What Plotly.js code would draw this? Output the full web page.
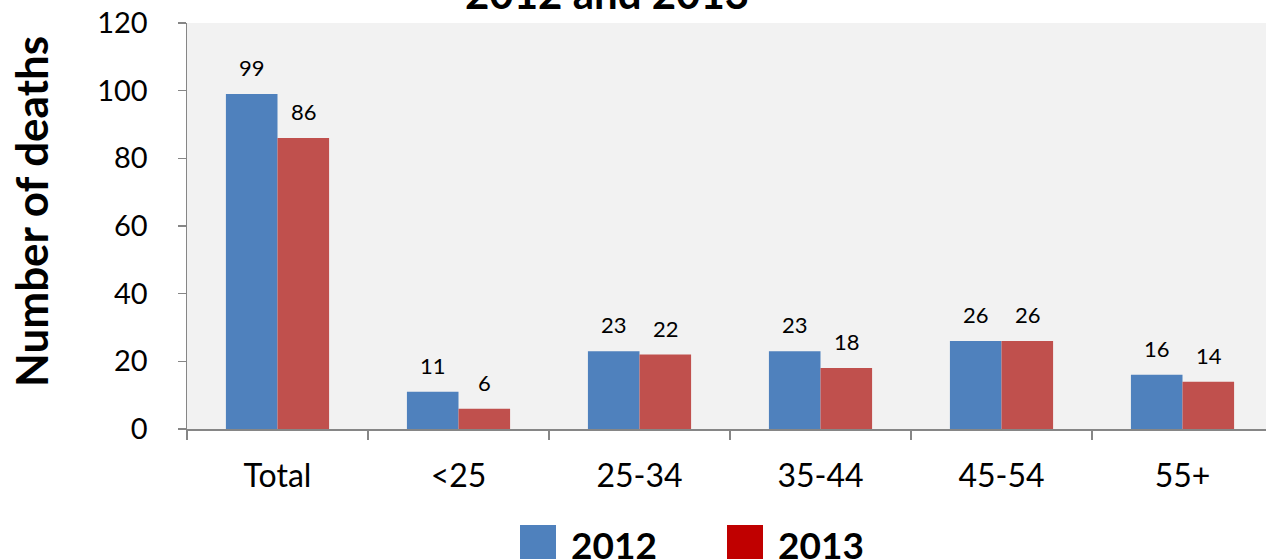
<!DOCTYPE html>
<html><head><meta charset="utf-8">
<script src="https://cdn.plot.ly/plotly-3.0.1.min.js"></script>
<style>html,body{margin:0;padding:0;overflow:hidden;background:#fff;width:1266px;height:559px}</style>
</head><body><div id="chart"></div>
<script>
const categories = ["Total", "<25", "25-34", "35-44", "45-54", "55+"];
const deaths2012 = [99, 11, 23, 23, 26, 16];
const deaths2013 = [86, 6, 22, 18, 26, 14];
const seriesNames = ["2012", "2013"];
const barColors = ["#4F81BD", "#C0504D"];
const legendColors = ["#4F81BD", "#C00000"];
const titleText = "2012 and 2013";
const yTitle = "Number of deaths";
const yTicks = [0, 20, 40, 60, 80, 100, 120];

const FONT = "Lato, 'Open Sans', sans-serif";
const series = [deaths2012, deaths2013];

const traces = series.map((vals, i) => ({
  type: "bar", x: categories, y: vals, name: seriesNames[i],
  marker: {color: barColors[i], line: {width: 0}},
  showlegend: false, hoverinfo: "skip"
}));

const annotations = [];
series.forEach((vals, i) => {
  vals.forEach((v, j) => {
    annotations.push({
      x: categories[j], y: v, xref: "x", yref: "y",
      xshift: (i === 0 ? -26 : 26), yshift: 11,
      yanchor: "bottom", showarrow: false, text: String(v),
      font: {family: FONT, size: 22, color: "#000"}
    });
  });
});
annotations.push({
  xref: "paper", yref: "paper", x: (607 - 187) / 1086, y: 1 + 3 / 406,
  xanchor: "center", yanchor: "bottom", showarrow: false,
  text: "<b>" + titleText + "</b>",
  font: {family: FONT, size: 42, color: "#000"}
});
annotations.push({
  xref: "paper", yref: "paper", x: -(187 - 31) / 1086, y: 0.5 + (226 - 212) / 406,
  xanchor: "center", yanchor: "middle", showarrow: false, textangle: -90,
  text: "<b>" + yTitle + "</b>",
  font: {family: FONT, size: 44, color: "#000"}
});
const shapes = [];
const legX = [520, 727];
seriesNames.forEach((n, i) => {
  shapes.push({type: "rect", xref: "paper", yref: "paper",
    x0: (legX[i] - 187) / 1086, x1: (legX[i] + 36 - 187) / 1086,
    y0: -(525 - 429) / 406, y1: -(562 - 429) / 406,
    fillcolor: legendColors[i], line: {width: 0}});
  annotations.push({xref: "paper", yref: "paper",
    x: (legX[i] + 49 - 187) / 1086, y: -(544 - 429) / 406,
    xanchor: "left", yanchor: "middle", showarrow: false,
    text: "<b>" + n + "</b>", font: {family: FONT, size: 37, color: "#000"}});
});

const layout = {
  width: 1280, height: 559,
  margin: {l: 187, r: 7, t: 23, b: 130, pad: 0},
  paper_bgcolor: "#ffffff", plot_bgcolor: "#F2F2F2",
  barmode: "group", bargap: 0.43, bargroupgap: 0,
  font: {family: FONT, color: "#000"},
  xaxis: {
    type: "category", tickson: "boundaries", ticks: "outside", ticklen: 9,
    tickcolor: "#868686", tickwidth: 1.5, showline: true, linecolor: "#868686", linewidth: 1.5,
    showgrid: false, zeroline: false, ticklabelstandoff: 18,
    tickfont: {family: FONT, size: 32, color: "#000"}, automargin: false
  },
  yaxis: {
    range: [0, 120], tickvals: yTicks, ticks: "outside", ticklen: 8,
    tickcolor: "#868686", tickwidth: 1.5, showline: true, linecolor: "#868686", linewidth: 1.5,
    showgrid: false, zeroline: false, ticklabelstandoff: 24,
    tickfont: {family: FONT, size: 29, color: "#000"}, automargin: false
  },
  showlegend: false,
  annotations: annotations, shapes: shapes
};
Plotly.newPlot("chart", traces, layout, {displayModeBar: false, staticPlot: true});
</script></body></html>
